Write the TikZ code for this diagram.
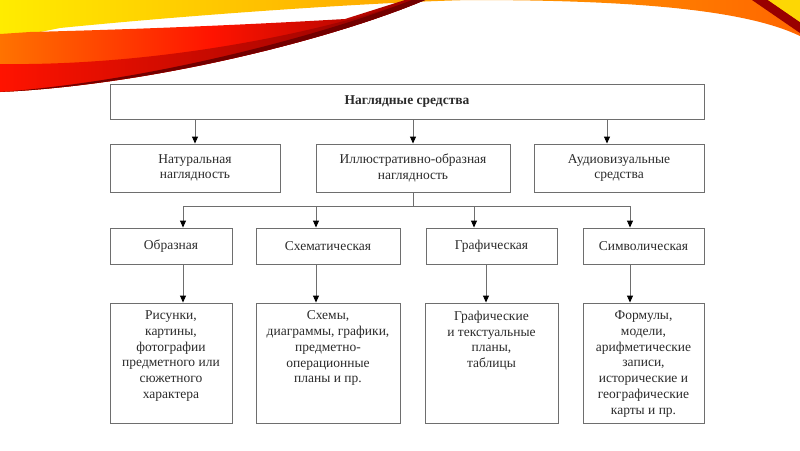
\documentclass[tikz,border=0pt]{standalone}
\usepackage{fontspec}
\setmainfont{Liberation Serif}
\usetikzlibrary{arrows.meta}
\definecolor{edge}{HTML}{6E6E6E}
\definecolor{txt}{HTML}{2B2B2B}
\newcommand{\topfill}[3]{\parbox[c][#1][t]{#2}{\centering\vspace{8pt}#3}}
\tikzset{
  box/.style={draw=edge, line width=0.9pt, fill=white, text=txt, inner sep=0pt,
    align=center, font=\fontsize{13.5}{15.7}\selectfont},
  link/.style={draw=edge, line width=0.9pt},
  arr/.style={link, -{Triangle[length=7pt,width=6pt,color=black]}}
}
\begin{document}
\begin{tikzpicture}[x=1pt,y=-1pt]
\useasboundingbox (0,0) rectangle (800,450);
\fill[white] (0,0) rectangle (800,450);
% decorative swoosh
\shade[left color=yellow!85!orange, right color=orange!80!red]
  (0,0) -- (800,0) -- (800,36) .. controls (750,12) and (650,0) .. (470,0)
  .. controls (380,2) and (200,14) .. (60,28) -- (0,40) -- cycle;
\shade[left color=orange!90!red, right color=red!60!black, middle color=red!85!orange]
  (0,34) -- (30,32) .. controls (150,29) and (260,24) .. (345,19) -- (405,0) -- (425,0)
  .. controls (330,40) and (150,85) .. (0,92) -- cycle;
\shade[left color=red!85!orange, right color=red!55!black]
  (0,92) .. controls (150,85) and (330,40) .. (425,0) -- (414,0)
  .. controls (310,36) and (150,66) .. (0,64) -- cycle;
\fill[red!45!black] (425,0) .. controls (330,40) and (150,85) .. (0,92)
  .. controls (150,81) and (320,36) .. (412,0) -- cycle;
\fill[red!60!black] (752,0) -- (768,0) -- (800,22) -- (800,33) -- cycle;
\fill[yellow!75!orange] (768,0) -- (800,0) -- (800,22) -- cycle;
% nodes
\node[box, minimum width=594pt, minimum height=35pt,
  font=\fontsize{13.5}{15.7}\selectfont\bfseries] (root) at (407,101.5) {Наглядные средства};
\node[box, minimum width=170pt, minimum height=48pt] (nat) at (195,168) {Натуральная\\наглядность};
\node[box, minimum width=194pt, minimum height=48pt] (ill) at (413,168) {Иллюстративно-образная\\наглядность};
\node[box, minimum width=170pt, minimum height=48pt] (aud) at (619,168) {Аудиовизуальные\\средства};
\node[box, minimum width=122pt, minimum height=36pt] (obr) at (171,246) {Образная};
\node[box, minimum width=144pt, minimum height=36pt] (sch) at (328,246) {Схематическая};
\node[box, minimum width=131pt, minimum height=36pt] (gra) at (491.5,246) {Графическая};
\node[box, minimum width=121pt, minimum height=36pt] (sym) at (643.5,246) {Символическая};
\node[box] (d1) at (171,363) {\topfill{120pt}{122pt}{Рисунки,\\картины,\\фотографии\\предметного или\\сюжетного\\характера}};
\node[box] (d2) at (328,363) {\topfill{120pt}{144pt}{Схемы,\\диаграммы, графики,\\предметно-\\операционные\\планы и пр.}};
\node[box] (d3) at (491.5,363) {\topfill{120pt}{133pt}{Графические\\и текстуальные\\планы,\\таблицы}};
\node[box] (d4) at (643.5,363) {\topfill{120pt}{121pt}{Формулы,\\модели,\\арифметические\\записи,\\исторические и\\географические\\карты и пр.}};
% connectors
\coordinate (x607) at (607,0);
\draw[arr] (root.south -| nat) -- (nat.north);
\draw[arr] (root.south -| ill) -- (ill.north);
\draw[arr] (x607 |- root.south) -- (x607 |- aud.north);
\coordinate (busL) at (183,206);
\coordinate (busR) at (630,206);
\coordinate (x316) at (316,206);
\coordinate (x474) at (474,206);
\coordinate (x486) at (486,0);
\draw[link] (ill.south) -- (ill.south |- busL);
\draw[link] (busL) -- (busR);
\draw[arr] (busL) -- (busL |- obr.north);
\draw[arr] (x316) -- (x316 |- sch.north);
\draw[arr] (x474) -- (x474 |- gra.north);
\draw[arr] (busR) -- (busR |- sym.north);
\draw[arr] (busL |- obr.south) -- (busL |- d1.north);
\draw[arr] (x316 |- sch.south) -- (x316 |- d2.north);
\draw[arr] (x486 |- gra.south) -- (x486 |- d3.north);
\draw[arr] (busR |- sym.south) -- (busR |- d4.north);
\end{tikzpicture}
\end{document}
